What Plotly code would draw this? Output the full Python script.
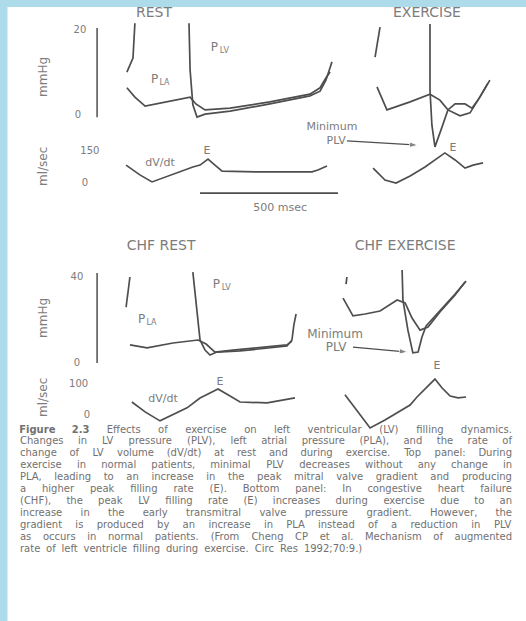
import plotly.graph_objects as go

# ----------------------------------------------------------------- data
# time: ms from the left reference of each panel; pressure: mmHg; flow: ml/sec
REST_PLV_EARLY_T = [25, 47, 54]
REST_PLV_EARLY_P = [10.1, 13.4, 21.6]
REST_PLV_T = [250, 254, 264, 279, 308, 399, 543, 688, 725, 746, 761, 768]
REST_PLV_P = [21.6, 10.6, 2.4, -0.5, 0.2, 0.9, 2.6, 4.5, 5.6, 8.2, 11.1, 12.5]
REST_PLA_T = [25, 54, 91, 145, 254, 275, 308, 399, 543, 688, 725, 746, 761]
REST_PLA_P = [6.4, 4.2, 2.1, 2.8, 4.2, 2.6, 1.2, 1.6, 3.1, 4.9, 6.4, 8.7, 10.1]
REST_FLOW_T = [22, 72, 116, 192, 264, 290, 319, 344, 370, 507, 696, 717, 750]
REST_FLOW = [84, 38, 5, 42, 75, 84, 112, 84, 56, 52, 52, 61, 80]

EX_PLV_EARLY_T = [127, 145]
EX_PLV_EARLY_P = [13.6, 20.7]
EX_PLV_T = [326, 326, 333, 344, 366, 391, 417, 453, 478, 507, 543]
EX_PLV_P = [21.4, 5.9, -2.4, -7.5, -3.5, 1.2, 2.6, 2.6, 1.6, 4.2, 8.2]
EX_PLA_T = [134, 170, 254, 326, 362, 391, 435, 471, 500, 536]
EX_PLA_P = [6.6, 1.2, 3.1, 4.9, 3.5, 1.2, -0.2, 0.5, 3.5, 7.5]
EX_FLOW_T = [120, 163, 203, 254, 308, 351, 380, 417, 453, 482, 518]
EX_FLOW = [70, 14, 0, 33, 75, 117, 141, 108, 70, 84, 94]

CHF_REST_PLV_EARLY_T = [22, 36]
CHF_REST_PLV_EARLY_P = [26.0, 40.0]
CHF_REST_PLV_T = [264, 275, 290, 308, 326, 351, 435, 605, 623, 630, 638]
CHF_REST_PLV_P = [42.3, 29.3, 10.7, 6.0, 3.7, 5.1, 5.6, 7.9, 10.7, 17.7, 22.8]
CHF_REST_PLA_T = [36, 98, 192, 283, 312, 344, 409, 605, 623]
CHF_REST_PLA_P = [8.4, 7.0, 9.3, 10.7, 8.8, 5.1, 6.0, 8.4, 10.2]
CHF_REST_FLOW_T = [43, 91, 145, 199, 243, 290, 326, 355, 391, 435, 533, 605, 634]
CHF_REST_FLOW = [42, 10, -19, 3, 23, 55, 71, 84, 65, 42, 39, 52, 55]

CHF_EX_PLV_EARLY_T = [22, 25]
CHF_EX_PLV_EARLY_P = [36.7, 40.0]
CHF_EX_PLV_T = [225, 228, 246, 264, 283, 297, 312, 362, 417, 457]
CHF_EX_PLV_P = [43.3, 29.3, 15.3, 4.7, 5.1, 12.1, 17.2, 24.2, 32.1, 38.1]
CHF_EX_PLA_T = [11, 47, 91, 145, 207, 236, 261, 290, 319, 362, 417, 453]
CHF_EX_PLA_P = [30.2, 21.9, 22.8, 24.2, 29.3, 27.9, 20.9, 15.3, 16.7, 23.7, 31.6, 37.7]
CHF_EX_FLOW_T = [18, 65, 109, 163, 207, 254, 279, 315, 344, 370, 399, 428, 457]
CHF_EX_FLOW = [65, 10, -42, -16, 6, 32, 58, 90, 116, 87, 61, 55, 58]

# scale bars
TOP_P_BAR = [-0.5, 20.5]
BOT_P_BAR = [0, 41.9]
P_BAR_T = [-83, -83]
TIME_BAR_T = [290, 790]
TIME_BAR_Y = [-47, -47]

# tick labels
TOP_P_TICKS = [20, 0]
TOP_F_TICKS = [150, 0]
BOT_P_TICKS = [40, 0]
BOT_F_TICKS = [100, 0]

CAPTION_LINES = [
    "Figure 2.3 Effects of exercise on left ventricular (LV) filling dynamics.",
    "Changes in LV pressure (PLV), left atrial pressure (PLA), and the rate of",
    "change of LV volume (dV/dt) at rest and during exercise. Top panel: During",
    "exercise in normal patients, minimal PLV decreases without any change in",
    "PLA, leading to an increase in the peak mitral valve gradient and producing",
    "a higher peak filling rate (E). Bottom panel: In congestive heart failure",
    "(CHF), the peak LV filling rate (E) increases during exercise due to an",
    "increase in the early transmitral valve pressure gradient. However, the",
    "gradient is produced by an increase in PLA instead of a reduction in PLV",
    "as occurs in normal patients. (From Cheng CP et al. Mechanism of augmented",
    "rate of left ventricle filling during exercise. Circ Res 1992;70:9.)",
]

# ----------------------------------------------------------------- style / geometry
W, H = 526, 621
FONT = "DejaVu Sans"
INK = "#4e4e4e"
LABEL = "#7c7c7c"
CAPTION = "#717171"
BLUE = "#addbea"
LW = 1.7
PX_PER_MS = 0.276
T0_PX = {"left": 120, "right": 340}
Y_CAL = {"top_p": (115, 4.25), "top_f": (183, 32 / 150),
         "bot_p": (363, 2.15), "bot_f": (415, 0.31)}
PANELS = {1: ("left", "top_p"), 2: ("left", "top_f"), 3: ("right", "top_p"),
          4: ("right", "top_f"), 5: ("left", "bot_p"), 6: ("left", "bot_f"),
          7: ("right", "bot_p"), 8: ("right", "bot_f")}

fig = go.Figure()


def axn(n):
    return ("x" if n == 1 else f"x{n}"), ("y" if n == 1 else f"y{n}")


layout_axes = {}
for n, (side, cal) in PANELS.items():
    x0 = T0_PX[side]
    p0, k = Y_CAL[cal]
    xr = [(0 - x0) / PX_PER_MS, (W - x0) / PX_PER_MS]
    yr = [(p0 - H) / k, p0 / k]
    xk = "xaxis" if n == 1 else f"xaxis{n}"
    yk = "yaxis" if n == 1 else f"yaxis{n}"
    xa, ya = axn(n)
    layout_axes[xk] = dict(domain=[0, 1], range=xr, visible=False, anchor=ya, fixedrange=True)
    layout_axes[yk] = dict(domain=[0, 1], range=yr, visible=False, anchor=xa, fixedrange=True)
# pixel axes for the caption
layout_axes["xaxis9"] = dict(domain=[0, 1], range=[0, W], visible=False, anchor="y9", fixedrange=True)
layout_axes["yaxis9"] = dict(domain=[0, 1], range=[H, 0], visible=False, anchor="x9", fixedrange=True)


def line(n, t, v, width=LW):
    xa, ya = axn(n)
    fig.add_trace(go.Scatter(x=t, y=v, xaxis=xa, yaxis=ya, mode="lines",
                             line=dict(color=INK, width=width), hoverinfo="skip"))


def text(n, xs, ys, texts, size=11, color=LABEL):
    xa, ya = axn(n)
    fig.add_trace(go.Scatter(x=xs, y=ys, xaxis=xa, yaxis=ya, mode="text",
                             text=texts, textposition="middle center",
                             textfont=dict(family=FONT, size=size, color=color),
                             hoverinfo="skip", cliponaxis=False))


def p_label(n, t, v, sub):
    """'P' with a subscript drawn as a smaller, lowered second text."""
    p0, k = Y_CAL[PANELS[n][1]]
    text(n, [t], [v], ["P"], size=12)
    text(n, [t + 10 / PX_PER_MS], [v - 3.5 / k], [sub], size=8)


def arrow(n, t, v):
    xa, ya = axn(n)
    fig.add_trace(go.Scatter(x=t, y=v, xaxis=xa, yaxis=ya, mode="lines+markers",
                             line=dict(color=INK, width=1.3),
                             marker=dict(symbol="arrow", angleref="previous",
                                         size=[0, 9], color=INK),
                             hoverinfo="skip"))


# ---- top: REST
line(1, REST_PLV_EARLY_T, REST_PLV_EARLY_P)
line(1, REST_PLA_T, REST_PLA_P)
line(1, REST_PLV_T, REST_PLV_P)
line(2, REST_FLOW_T, REST_FLOW)
line(1, P_BAR_T, TOP_P_BAR, width=1.5)
line(2, TIME_BAR_T, TIME_BAR_Y, width=1.8)
# ---- top: EXERCISE
line(3, EX_PLV_EARLY_T, EX_PLV_EARLY_P)
line(3, EX_PLA_T, EX_PLA_P)
line(3, EX_PLV_T, EX_PLV_P)
line(4, EX_FLOW_T, EX_FLOW)
# ---- bottom: CHF REST
line(5, CHF_REST_PLV_EARLY_T, CHF_REST_PLV_EARLY_P)
line(5, CHF_REST_PLA_T, CHF_REST_PLA_P)
line(5, CHF_REST_PLV_T, CHF_REST_PLV_P)
line(6, CHF_REST_FLOW_T, CHF_REST_FLOW)
line(5, P_BAR_T, BOT_P_BAR, width=1.5)
# ---- bottom: CHF EXERCISE
line(7, CHF_EX_PLV_EARLY_T, CHF_EX_PLV_EARLY_P)
line(7, CHF_EX_PLA_T, CHF_EX_PLA_P)
line(7, CHF_EX_PLV_T, CHF_EX_PLV_P)
line(8, CHF_EX_FLOW_T, CHF_EX_FLOW)

# arrows to minimum PLV
arrow(3, [25, 283], [-6.1, -7.1])
arrow(7, [47, 246], [7.4, 5.1])

# titles
text(1, [123], [24.0], ["REST"], size=14)
text(3, [315], [24.0], ["EXERCISE"], size=14)
text(5, [149], [54], ["CHF REST"], size=14)
text(7, [236], [54], ["CHF EXERCISE"], size=14)

# tick labels
text(1, [-145, -152], TOP_P_TICKS, [str(v) for v in TOP_P_TICKS], size=10)
text(2, [-109, -127], TOP_F_TICKS, [str(v) for v in TOP_F_TICKS], size=10)
text(5, [-156, -156], BOT_P_TICKS, [str(v) for v in BOT_P_TICKS], size=10)
text(6, [-150, -120], BOT_F_TICKS, [str(v) for v in BOT_F_TICKS], size=10)

# curve labels
p_label(1, 125, 8.3, "LA")
p_label(1, 342, 15.8, "LV")
text(2, [145, 315, 580], [94, 150, -117], ["dV/dt", "E", "500 msec"], size=11)
text(3, [-29, -14], [-2.9, -6.1], ["Minimum", "PLV"], size=11)
text(4, [409], [164], ["E"], size=11)
p_label(5, 78, 20.1, "LA")
p_label(5, 349, 36.3, "LV")
text(6, [156, 362], [52, 106], ["dV/dt", "E"], size=11)
text(7, [-18, -14], [13.2, 6.8], ["Minimum", "PLV"], size=12)
text(8, [351], [158], ["E"], size=11)

# rotated unit labels (pixel placement)
annotations = []
for lab, py in [("mmHg", 77), ("ml/sec", 167), ("mmHg", 318), ("ml/sec", 398)]:
    annotations.append(dict(x=43, y=py, xref="x9", yref="y9", text=lab, showarrow=False,
                            textangle=-90, font=dict(family=FONT, size=12, color=LABEL)))

# ---- caption, justified word by word (DejaVu Sans advance widths / 2048)
ADV = {" ": 651, "(": 799, ")": 799, ",": 651, "-": 739, ".": 651, "/": 690, ":": 690, ";": 690,
       "A": 1401, "B": 1405, "C": 1430, "D": 1577, "E": 1294, "F": 1178, "G": 1587, "H": 1540,
       "I": 604, "J": 604, "K": 1343, "L": 1141, "M": 1767, "N": 1532, "O": 1612, "P": 1235,
       "Q": 1612, "R": 1423, "S": 1300, "T": 1251, "U": 1499, "V": 1401, "W": 2025, "X": 1403,
       "Y": 1251, "Z": 1403, "a": 1255, "b": 1300, "c": 1126, "d": 1300, "e": 1260, "f": 721,
       "g": 1300, "h": 1298, "i": 569, "j": 569, "k": 1186, "l": 569, "m": 1995, "n": 1298,
       "o": 1253, "p": 1300, "q": 1300, "r": 842, "s": 1067, "t": 803, "u": 1298, "v": 1212,
       "w": 1675, "x": 1212, "y": 1212, "z": 1075}
CAP_FS = 10
CAP_LEFT, CAP_RIGHT = 20, 512
CAP_TOP, CAP_STEP = 430, 11.9


def tw(s, bold=False):
    w = sum(ADV.get(c, 1303) for c in s) / 2048 * CAP_FS
    return w * (1.1 if bold else 1.0)


for i, ln in enumerate(CAPTION_LINES):
    words = ln.split(" ")
    bolds = [(i == 0 and j < 2) for j in range(len(words))]
    widths = [tw(w, b) for w, b in zip(words, bolds)]
    if i == len(CAPTION_LINES) - 1:
        gap = ADV[" "] / 2048 * CAP_FS * 1.8
    else:
        gap = (CAP_RIGHT - CAP_LEFT - sum(widths)) / (len(words) - 1)
    xs, cur = [], CAP_LEFT
    for w in widths:
        xs.append(cur + w / 2)
        cur += w + gap
    labels = [f"<b>{w}</b>" if b else w for w, b in zip(words, bolds)]
    text(9, xs, [CAP_TOP + i * CAP_STEP] * len(words), labels, size=CAP_FS, color=CAPTION)

shapes = [
    dict(type="rect", xref="paper", yref="paper", x0=0, x1=1, y0=1 - 7 / H, y1=1,
         fillcolor=BLUE, line=dict(width=0), layer="above"),
    dict(type="rect", xref="paper", yref="paper", x0=0, x1=7.5 / W, y0=0, y1=1,
         fillcolor=BLUE, line=dict(width=0), layer="above"),
]

fig.update_layout(
    width=W, height=H, margin=dict(l=0, r=0, t=0, b=0, pad=0),
    paper_bgcolor="white", plot_bgcolor="rgba(0,0,0,0)",
    showlegend=False, shapes=shapes, annotations=annotations,
    font=dict(family=FONT), **layout_axes,
)

fig.write_html("out.html")
